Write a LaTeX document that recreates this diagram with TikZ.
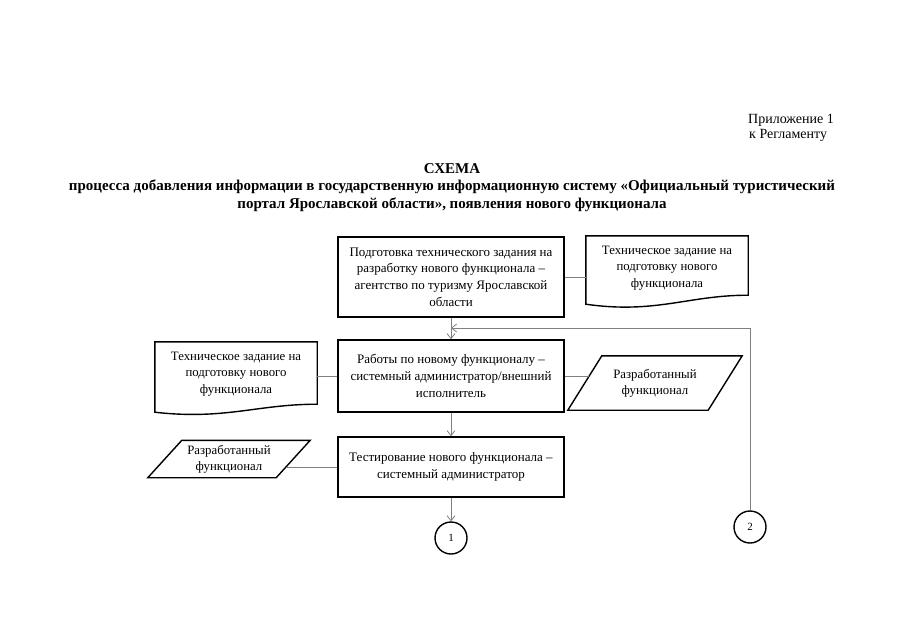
\documentclass[tikz,border=0pt]{standalone}
\usepackage{fontspec}
\setmainfont{Liberation Serif}
\usetikzlibrary{arrows.meta,calc}
\tikzset{
  procbox/.style={draw=black,line width=1.6pt,minimum width=226pt,align=center,inner sep=0pt,font=\fontsize{13}{16.7}\selectfont},
  shapetext/.style={inner sep=0pt,align=center,font=\fontsize{12.8}{16.3}\selectfont},
  outline/.style={draw=black,line width=1.4pt,line join=miter},
  conn/.style={draw=black!50,line width=0.8pt},
  flow/.style={draw=black!50,line width=0.8pt,-{Straight Barb[length=5pt,width=8pt,line width=0.8pt]}},
  conncircle/.style={circle,draw=black,line width=1.4pt,minimum size=32pt,inner sep=0pt,font=\fontsize{11}{13}\selectfont},
}
\begin{document}
\begin{tikzpicture}[x=1pt,y=-1pt]
\useasboundingbox (0,0) rectangle (905,640);
% header
\node[anchor=base west,inner sep=0pt,align=left,font=\fontsize{14}{15}\selectfont] (hdr) at (748,138) {Приложение 1\\\hspace*{1pt}к Регламенту};
\node[inner sep=0pt,font=\bfseries\fontsize{15}{17.5}\selectfont,align=center,anchor=base] (title) at (452,208) {СХЕМА\\процесса добавления информации в государственную информационную систему «Официальный туристический\\портал Ярославской области», появления нового функционала};
% process boxes
\node[procbox,minimum height=80pt] (b1) at (451,277) {Подготовка технического задания на\\разработку нового функционала –\\агентство по туризму Ярославской\\области};
\node[procbox,minimum height=72pt] (b2) at (451,376) {Работы по новому функционалу –\\системный администратор/внешний\\исполнитель};
\node[procbox,minimum height=60pt] (b3) at (451,467) {Тестирование нового функционала –\\системный администратор};
% document 1
\node[shapetext,minimum width=162pt,minimum height=64pt] (d1) at (667,268) {Техническое задание на\\подготовку нового\\функционала};
\draw[outline] (d1.north west) -- (d1.north east) -- ($(d1.south east)+(0,-5)$)
  .. controls ($(d1.south east)+(-60,-5)$) and ($(d1.south west)+(70,14)$) .. ($(d1.south west)+(0,4)$) -- cycle;
% document 2
\node[shapetext,minimum width=162pt,minimum height=64pt] (d2) at (236,374) {Техническое задание на\\подготовку нового\\функционала};
\draw[outline] (d2.north west) -- (d2.north east) -- ($(d2.south east)+(0,-2)$)
  .. controls ($(d2.south east)+(-60,-2)$) and ($(d2.south west)+(70,14)$) .. ($(d2.south west)+(0,6)$) -- cycle;
% parallelogram right
\node[shapetext,minimum width=140pt,minimum height=54pt] (p1) at (655,383) {Разработанный\\функционал};
\draw[outline] ($(p1.north west)+(17,0)$) -- ($(p1.north east)+(17,0)$) -- ($(p1.south east)+(-17,0)$) -- ($(p1.south west)+(-17,0)$) -- cycle;
% parallelogram left
\node[shapetext,minimum width=128pt,minimum height=37pt] (p2) at (229,459) {Разработанный\\функционал};
\draw[outline] ($(p2.north west)+(17,0)$) -- ($(p2.north east)+(17,0)$) -- ($(p2.south east)+(-17,0)$) -- ($(p2.south west)+(-17,0)$) -- cycle;
% connectors
\node[conncircle] (c1) at (451,538) {1};
\node[conncircle] (c2) at (750,527) {2};
\coordinate (fb) at (750,328);
\draw[conn] (b1.east) -- (b1.east -| d1.west);
\draw[conn] (d2.east |- b2.west) -- (b2.west);
\draw[conn] (b2.east) -- ($(b2.east -| p1.west)+(4,0)$);
\draw[conn] ($(p2.east |- b3.west)+(-6,0)$) -- (b3.west);
\draw[flow] (b1.south) -- (b2.north);
\draw[flow] (b2.south) -- (b3.north);
\draw[flow] (b3.south) -- (c1.north);
\draw[flow] (c2.north) -- (fb) -- (fb -| b1.south);
\end{tikzpicture}
\end{document}
